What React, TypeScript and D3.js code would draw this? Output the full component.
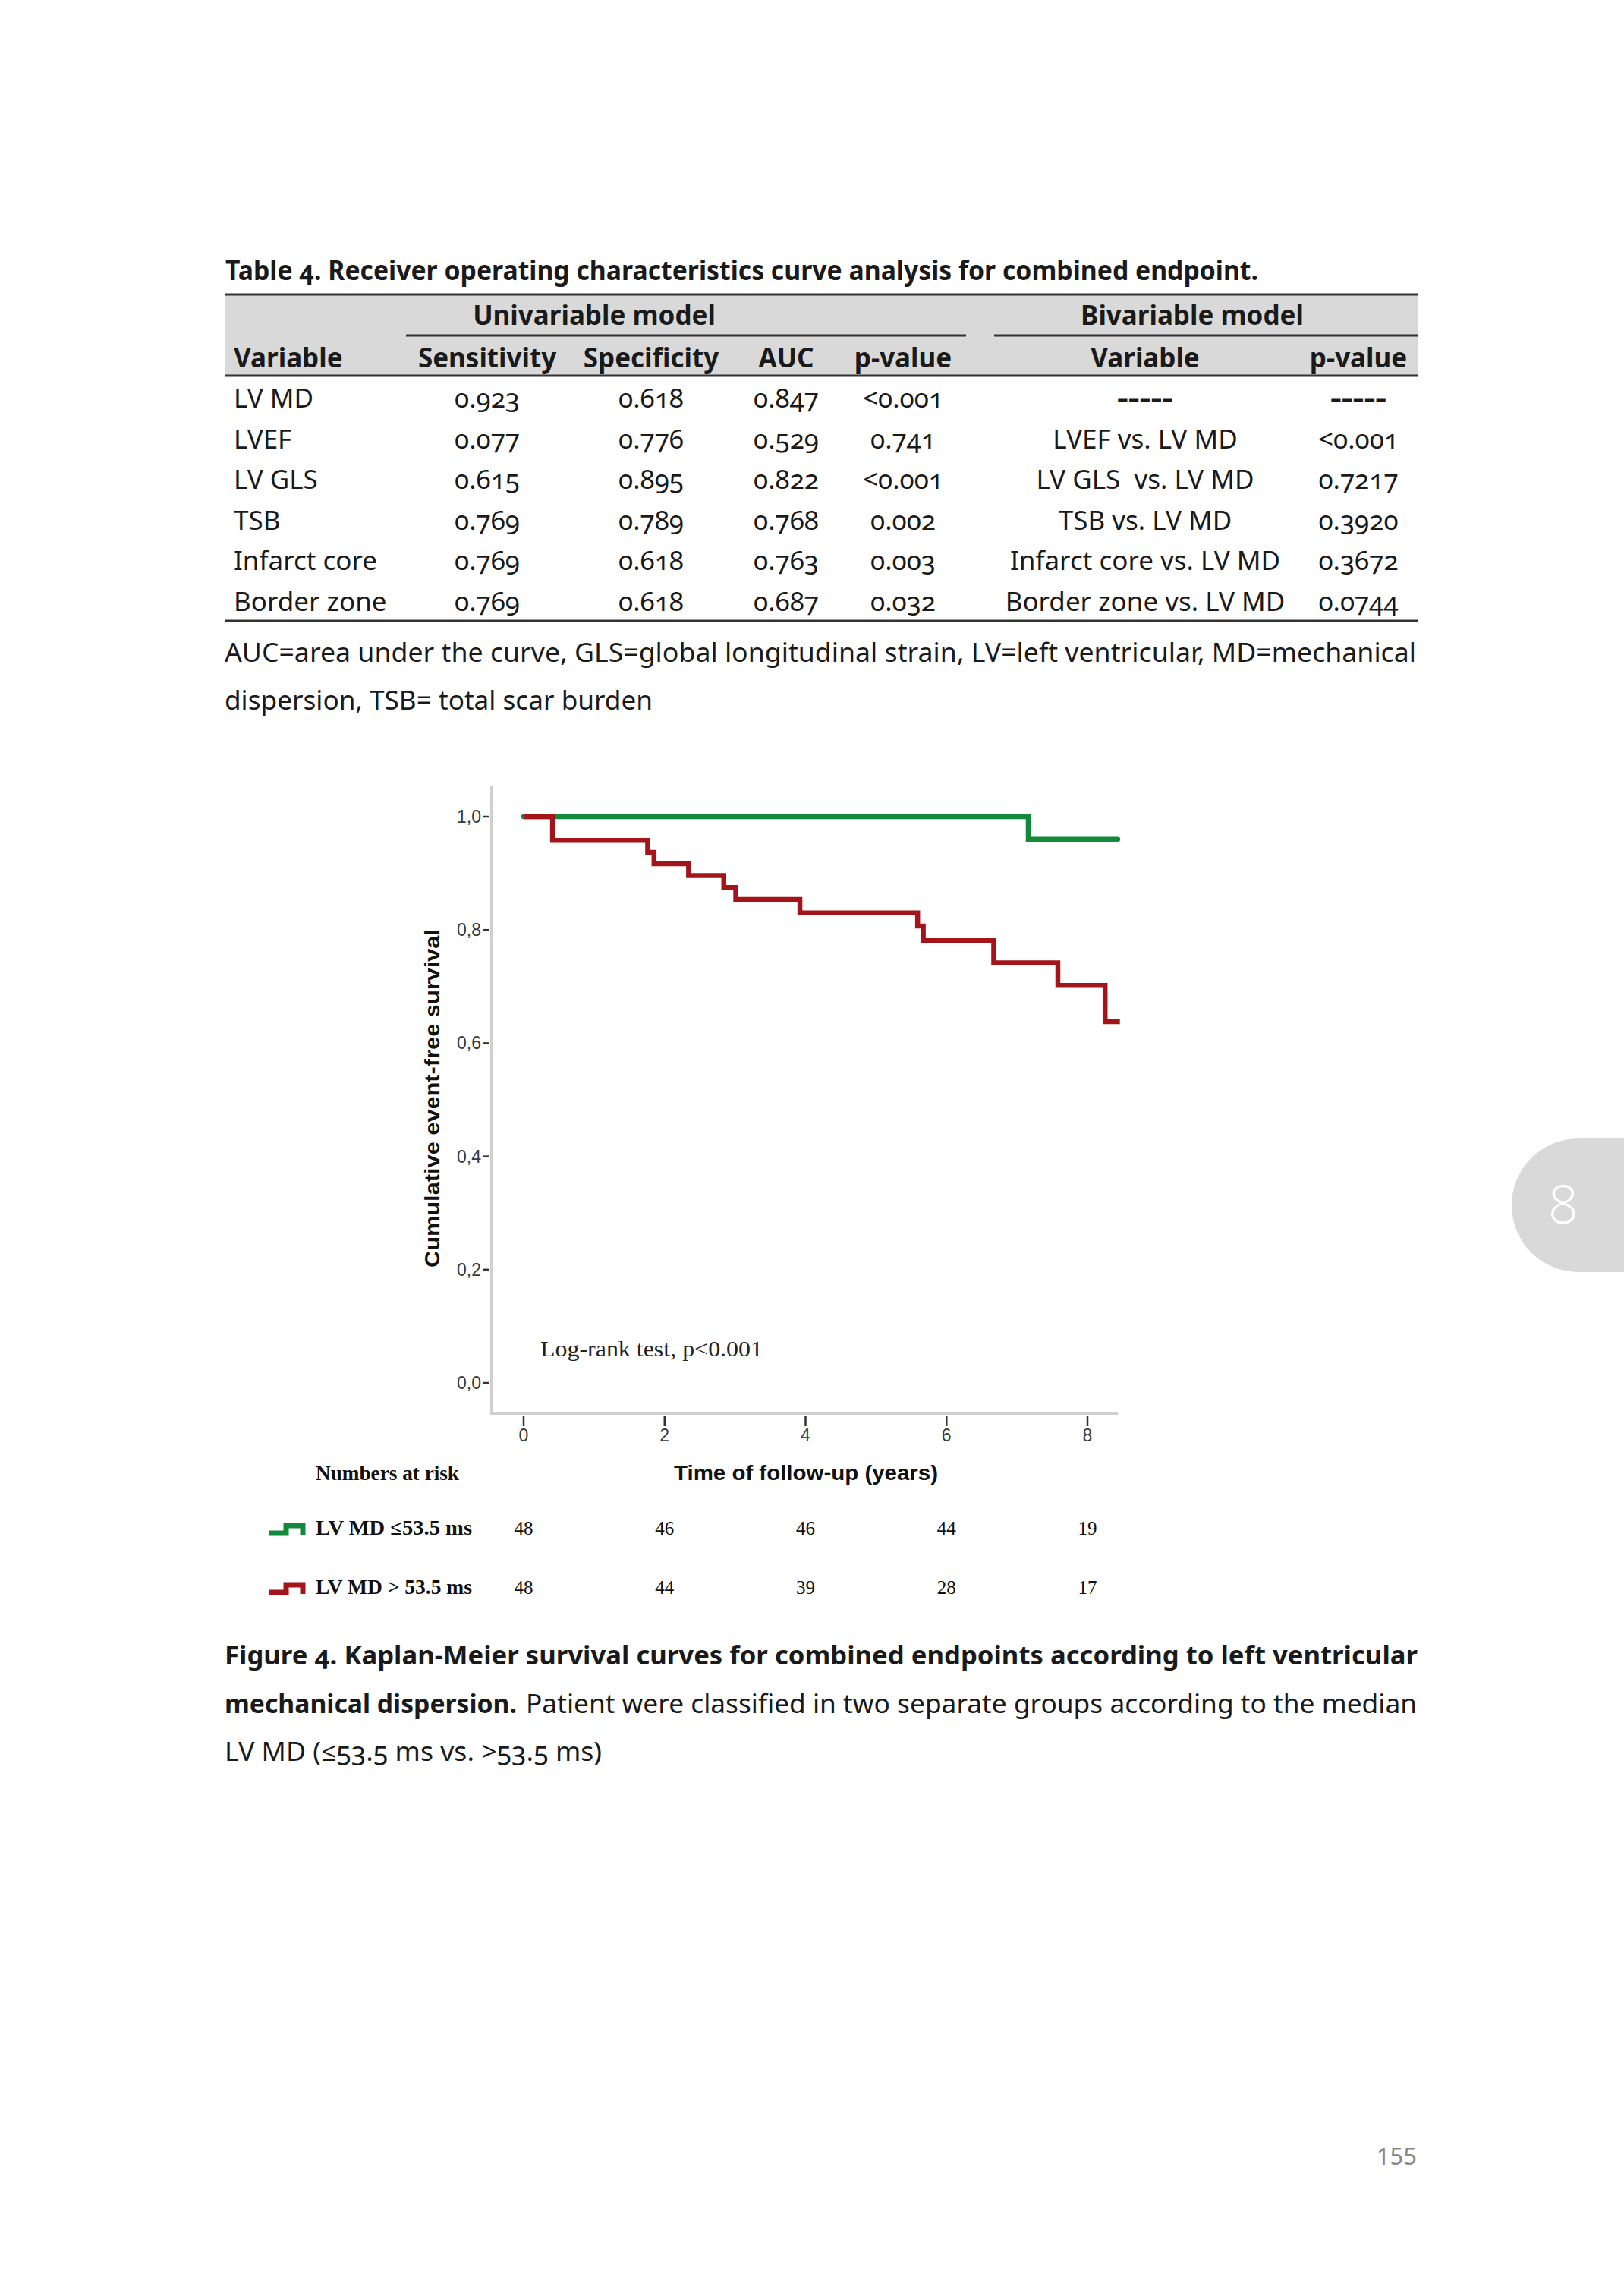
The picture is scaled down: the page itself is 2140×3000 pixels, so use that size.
import React from "react";
import * as d3 from "d3";

// ---------- Table data ----------
const tableVariables = ["LV MD", "LVEF", "LV GLS", "TSB", "Infarct core", "Border zone"];
const sensitivity = ["0.923", "0.077", "0.615", "0.769", "0.769", "0.769"];
const specificity = ["0.618", "0.776", "0.895", "0.789", "0.618", "0.618"];
const aucValues = ["0.847", "0.529", "0.822", "0.768", "0.763", "0.687"];
const uniPValues = ["<0.001", "0.741", "<0.001", "0.002", "0.003", "0.032"];
const bivarVariables = ["-----", "LVEF vs. LV MD", "LV GLS  vs. LV MD", "TSB vs. LV MD", "Infarct core vs. LV MD", "Border zone vs. LV MD"];
const bivarPValues = ["-----", "<0.001", "0.7217", "0.3920", "0.3672", "0.0744"];

// ---------- Kaplan-Meier data ----------
const lowMdTimes = [0, 7.16, 8.43];
const lowMdSurvival = [1.0, 0.96, 0.96];
const highMdTimes = [0, 0.41, 1.76, 1.85, 2.34, 2.84, 3.01, 3.92, 5.59, 5.67, 6.67, 7.58, 8.25, 8.46];
const highMdSurvival = [1.0, 0.958, 0.937, 0.917, 0.896, 0.875, 0.854, 0.83, 0.807, 0.781, 0.742, 0.702, 0.638, 0.638];

const yTicks = [0, 0.2, 0.4, 0.6, 0.8, 1.0];
const xTicks = [0, 2, 4, 6, 8];
const riskTimes = [0, 2, 4, 6, 8];
const riskLowMd = [48, 46, 46, 44, 19];
const riskHighMd = [48, 44, 39, 28, 17];

const GREEN = "#138a3b";
const RED = "#a3141b";
const SANS = "'Noto Sans', 'Open Sans', sans-serif";
const SERIF = "'Liberation Serif', 'DejaVu Serif', serif";
const AXSANS = "'Liberation Sans', Arial, sans-serif";
const BOLDSANS = "'Liberation Sans', Arial, sans-serif";

export default function App() {
  const x = d3.scaleLinear().domain([0, 8]).range([690, 1433]);
  const y = d3.scaleLinear().domain([0, 1]).range([1822, 1076]);
  const line = d3
    .line<[number, number]>()
    .x((d) => x(d[0]))
    .y((d) => y(d[1]))
    .curve(d3.curveStepAfter);
  const lowPath = line(lowMdTimes.map((t, i) => [t, lowMdSurvival[i]] as [number, number])) || "";
  const highPath = line(highMdTimes.map((t, i) => [t, highMdSurvival[i]] as [number, number])) || "";

  const rowY = d3.scaleLinear().domain([0, 5]).range([537, 805]);
  const textColor = "#1a1a1a";
  const tblFont = { fontFamily: SANS, fontSize: 35, fill: textColor, fontVariantNumeric: "oldstyle-nums" } as React.CSSProperties;
  const capFont = { fontFamily: SANS, fontSize: 34, fill: textColor, fontVariantNumeric: "oldstyle-nums" } as React.CSSProperties;

  const cols = [
    { vals: sensitivity, cx: 642 },
    { vals: specificity, cx: 858 },
    { vals: aucValues, cx: 1036 },
    { vals: uniPValues, cx: 1190 },
    { vals: bivarVariables, cx: 1509 },
    { vals: bivarPValues, cx: 1790 },
  ];
  const headers = [
    { t: "Sensitivity", cx: 642 },
    { t: "Specificity", cx: 858 },
    { t: "AUC", cx: 1036 },
    { t: "p-value", cx: 1190 },
    { t: "Variable", cx: 1509 },
    { t: "p-value", cx: 1790 },
  ];

  const legendIcon = (yy: number, color: string) => (
    <path
      d={`M354,${yy + 6} H377 V${yy - 4} H399 V${yy + 8}`}
      fill="none"
      stroke={color}
      strokeWidth={7}
    />
  );

  return (
    <svg width={2140} height={3000} style={{ position: "absolute", left: 0, top: 0, background: "#fff" }}>
      <rect x={0} y={0} width={2140} height={3000} fill="#fff" />

      {/* ---------- Table ---------- */}
      <text x={297} y={369} style={{ ...tblFont, fontWeight: 700 }} textLength={1361} lengthAdjust="spacingAndGlyphs">
        Table 4. Receiver operating characteristics curve analysis for combined endpoint.
      </text>
      <rect x={296} y={388} width={1572} height={107} fill="#d9d9d9" />
      <line x1={296} x2={1868} y1={388} y2={388} stroke="#333" strokeWidth={3} />
      <line x1={535} x2={1273} y1={442} y2={442} stroke="#333" strokeWidth={3} />
      <line x1={1310} x2={1868} y1={442} y2={442} stroke="#333" strokeWidth={3} />
      <line x1={296} x2={1868} y1={495} y2={495} stroke="#333" strokeWidth={3} />
      <line x1={296} x2={1868} y1={818} y2={818} stroke="#333" strokeWidth={3} />
      <text x={783} y={428} textAnchor="middle" style={{ ...tblFont, fontWeight: 700 }}>
        Univariable  model
      </text>
      <text x={1571} y={428} textAnchor="middle" style={{ ...tblFont, fontWeight: 700 }}>
        Bivariable model
      </text>
      <text x={308} y={484} style={{ ...tblFont, fontWeight: 700 }}>
        Variable
      </text>
      {headers.map((h, i) => (
        <text key={"h" + i} x={h.cx} y={484} textAnchor="middle" style={{ ...tblFont, fontWeight: 700 }}>
          {h.t}
        </text>
      ))}
      {tableVariables.map((v, i) => (
        <text key={"v" + i} x={308} y={rowY(i)} style={tblFont}>
          {v}
        </text>
      ))}
      {cols.map((c, ci) =>
        c.vals.map((v, i) =>
          v === "-----" ? (
            <text
              key={"c" + ci + "_" + i}
              x={c.cx - 37}
              y={rowY(i)}
              style={{ ...tblFont, fontWeight: 700 }}
              textLength={74}
              lengthAdjust="spacingAndGlyphs"
            >
              {v}
            </text>
          ) : (
            <text key={"c" + ci + "_" + i} x={c.cx} y={rowY(i)} textAnchor="middle" style={tblFont} xmlSpace="preserve">
              {v}
            </text>
          )
        )
      )}
      <text x={296} y={872} style={capFont} textLength={1570} lengthAdjust="spacingAndGlyphs">
        AUC=area under the curve, GLS=global longitudinal strain, LV=left ventricular, MD=mechanical
      </text>
      <text x={296} y={935} style={capFont} textLength={564} lengthAdjust="spacingAndGlyphs">
        dispersion, TSB= total scar burden
      </text>

      {/* ---------- KM chart ---------- */}
      <line x1={648} x2={648} y1={1035} y2={1862} stroke="#cfcfcf" strokeWidth={4} />
      <line x1={646} x2={1473} y1={1862} y2={1862} stroke="#cfcfcf" strokeWidth={4} />
      {yTicks.map((t) => (
        <g key={"yt" + t}>
          <line x1={636} x2={645} y1={y(t)} y2={y(t)} stroke="#333" strokeWidth={2.5} />
          <text x={634} y={y(t) + 8} textAnchor="end" style={{ fontFamily: AXSANS, fontSize: 23, fill: "#3a3a3a" }}>
            {t.toFixed(1).replace(".", ",")}
          </text>
        </g>
      ))}
      {xTicks.map((t) => (
        <g key={"xt" + t}>
          <line x1={x(t)} x2={x(t)} y1={1866} y2={1879} stroke="#333" strokeWidth={2.5} />
          <text x={x(t)} y={1899} textAnchor="middle" style={{ fontFamily: AXSANS, fontSize: 23, fill: "#3a3a3a" }}>
            {t}
          </text>
        </g>
      ))}
      <path d={lowPath} fill="none" stroke={GREEN} strokeWidth={6.5} strokeLinecap="round" />
      <path d={highPath} fill="none" stroke={RED} strokeWidth={6.5} />
      <text
        transform="translate(579,1447) rotate(-90)"
        textAnchor="middle"
        textLength={446}
        lengthAdjust="spacingAndGlyphs"
        style={{ fontFamily: BOLDSANS, fontWeight: 700, fontSize: 28, fill: "#111" }}
      >
        Cumulative event-free survival
      </text>
      <text x={1062} y={1950} textAnchor="middle" textLength={348} lengthAdjust="spacingAndGlyphs" style={{ fontFamily: BOLDSANS, fontWeight: 700, fontSize: 27, fill: "#111" }}>
        Time of follow-up (years)
      </text>
      <text x={712} y={1787} style={{ fontFamily: SERIF, fontSize: 30, fill: "#222" }} textLength={293} lengthAdjust="spacingAndGlyphs">
        Log-rank test, p&lt;0.001
      </text>

      {/* Numbers at risk */}
      <text x={416} y={1950} textLength={189} lengthAdjust="spacingAndGlyphs" style={{ fontFamily: SERIF, fontWeight: 700, fontSize: 27, fill: "#111" }}>
        Numbers at risk
      </text>
      {legendIcon(2014, GREEN)}
      {legendIcon(2092, RED)}
      <text x={416} y={2022} textLength={206} lengthAdjust="spacingAndGlyphs" style={{ fontFamily: SERIF, fontWeight: 700, fontSize: 27, fill: "#111" }}>
        LV MD ≤53.5 ms
      </text>
      <text x={416} y={2100} textLength={206} lengthAdjust="spacingAndGlyphs" style={{ fontFamily: SERIF, fontWeight: 700, fontSize: 27, fill: "#111" }}>
        LV MD &gt; 53.5 ms
      </text>
      {riskTimes.map((t, i) => (
        <g key={"r" + t}>
          <text x={x(t)} y={2022} textAnchor="middle" style={{ fontFamily: SERIF, fontSize: 25, fill: "#111" }}>
            {riskLowMd[i]}
          </text>
          <text x={x(t)} y={2100} textAnchor="middle" style={{ fontFamily: SERIF, fontSize: 25, fill: "#111" }}>
            {riskHighMd[i]}
          </text>
        </g>
      ))}

      {/* ---------- Caption ---------- */}
      <text x={296} y={2193} style={{ ...capFont, fontWeight: 700 }} textLength={1572} lengthAdjust="spacingAndGlyphs">
        Figure 4. Kaplan-Meier survival curves for combined endpoints according to left ventricular
      </text>
      <text x={296} y={2257} style={{ ...capFont, fontWeight: 700 }} textLength={385} lengthAdjust="spacingAndGlyphs">
        mechanical dispersion.
      </text>
      <text x={693} y={2257} style={capFont} textLength={1174} lengthAdjust="spacingAndGlyphs">
        Patient were classified in two separate groups according to the median
      </text>
      <text x={296} y={2320} style={capFont} textLength={497} lengthAdjust="spacingAndGlyphs">
        LV MD (≤53.5 ms vs. &gt;53.5 ms)
      </text>

      {/* ---------- Chapter tab & page number ---------- */}
      <rect x={1992} y={1500} width={260} height={176} rx={88} ry={88} fill="#d9d9d9" />
      <text x={2060} y={1612} textAnchor="middle" style={{ fontFamily: "'Open Sans', sans-serif", fontWeight: 300, fontSize: 70, fill: "#fff" }}>
        8
      </text>
      <text x={1867} y={2852} textAnchor="end" style={{ fontFamily: SANS, fontSize: 31, fill: "#888" }}>
        155
      </text>
    </svg>
  );
}
